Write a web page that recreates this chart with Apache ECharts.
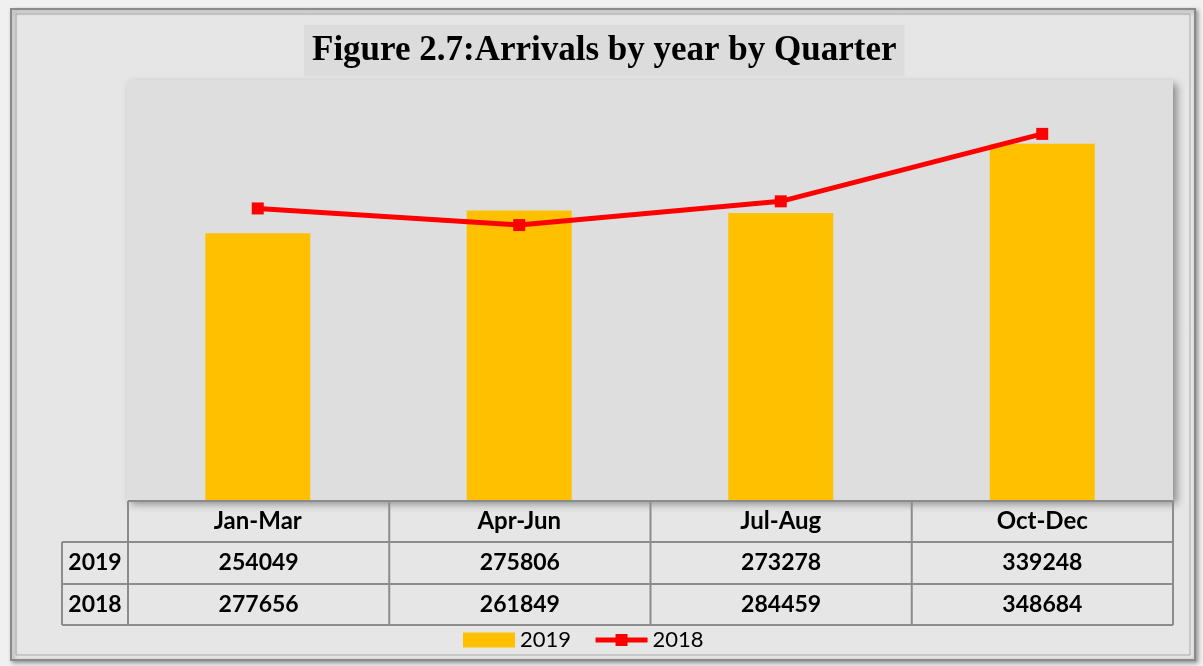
<!DOCTYPE html>
<html>
<head>
<meta charset="utf-8">
<script src="https://cdn.jsdelivr.net/npm/echarts@6/dist/echarts.min.js"></script>
<style>
  html, body { margin: 0; padding: 0; background: #f0f0f0; }
  #chart { width: 1203px; height: 666px; }
</style>
</head>
<body>
<div id="chart"></div>
<script>
const quarters = ['Jan-Mar', 'Apr-Jun', 'Jul-Aug', 'Oct-Dec'];
const arrivals2019 = [254049, 275806, 273278, 339248];
const arrivals2018 = [277656, 261849, 284459, 348684];
const yearNames = ['2019', '2018'];

// table under the plot
const tblLeft = 128, tblRight = 1173, labelLeft = 62;
const rowTop = [501, 542, 584, 625];
const colW = (tblRight - tblLeft) / quarters.length;
const lineStyle = { stroke: '#8c8c8c', lineWidth: 2 };
const cellFont = 'bold 23px Lato';

const tableGraphics = [];
const hline = (x1, x2, y) => tableGraphics.push({ type: 'line', shape: { x1, y1: y, x2, y2: y }, style: lineStyle, z: 10 });
const vline = (x, y1, y2) => tableGraphics.push({ type: 'line', shape: { x1: x, y1, x2: x, y2 }, style: lineStyle, z: 10 });

hline(tblLeft, tblRight, rowTop[0]);
hline(labelLeft, tblRight, rowTop[1]);
hline(labelLeft, tblRight, rowTop[2]);
hline(labelLeft, tblRight, rowTop[3]);
vline(labelLeft, rowTop[1], rowTop[3]);
for (let i = 0; i <= quarters.length; i++) vline(tblLeft + i * colW, rowTop[0], rowTop[3]);

[arrivals2019, arrivals2018].forEach((vals, r) => {
  const cy = (rowTop[r + 1] + rowTop[r + 2]) / 2;
  tableGraphics.push({
    type: 'text', x: (labelLeft + tblLeft) / 2, y: cy, z: 10,
    style: { text: yearNames[r], font: cellFont, fill: '#000', align: 'center', verticalAlign: 'middle' }
  });
  vals.forEach((v, c) => {
    tableGraphics.push({
      type: 'text', x: tblLeft + (c + 0.5) * colW, y: cy, z: 10,
      style: { text: String(v), font: cellFont, fill: '#000', align: 'center', verticalAlign: 'middle' }
    });
  });
});

const chart = echarts.init(document.getElementById('chart'));
chart.setOption({
  backgroundColor: '#f0f0f0',
  animation: false,
  title: {
    text: 'Figure 2.7:Arrivals by year by Quarter',
    left: 304,
    top: 25,
    backgroundColor: '#dcdcdc',
    padding: [6, 8, 5, 8],
    textStyle: { fontFamily: 'Liberation Serif', fontWeight: 'bold', fontSize: 35, lineHeight: 40, color: '#000' }
  },
  graphic: [
    {
      type: 'rect', z: -10,
      shape: { x: 11, y: 9, width: 1184, height: 651 },
      style: { fill: '#e6e6e6', stroke: '#8a8a8a', lineWidth: 2, shadowBlur: 4, shadowColor: 'rgba(0,0,0,0.35)', shadowOffsetX: 2, shadowOffsetY: 2 }
    },
    {
      type: 'rect', z: -9,
      shape: { x: 16, y: 14, width: 1174, height: 641 },
      style: { fill: 'none', stroke: '#a8a8a8', lineWidth: 1 }
    },
    ...tableGraphics
  ],
  legend: {
    left: 458,
    top: 624,
    itemWidth: 52,
    itemHeight: 15,
    itemGap: 22,
    textStyle: { fontFamily: 'Lato', fontSize: 22, color: '#000' },
    data: [
      { name: '2019', icon: 'rect' },
      { name: '2018', lineStyle: { width: 5 } }
    ]
  },
  grid: {
    left: 127, right: 30, top: 80, bottom: 166,
    show: true,
    backgroundColor: '#dedede',
    borderWidth: 0,
    shadowColor: 'rgba(0,0,0,0.4)',
    shadowBlur: 8,
    shadowOffsetX: 4,
    shadowOffsetY: 4
  },
  xAxis: {
    type: 'category',
    data: quarters,
    axisLine: { show: false },
    axisTick: { show: false },
    axisLabel: { fontFamily: 'Lato', fontWeight: 'bold', fontSize: 24, color: '#000', margin: 9 }
  },
  yAxis: {
    type: 'value',
    min: 0,
    max: 400000,
    show: false,
    splitLine: { show: false }
  },
  series: [
    {
      name: '2019',
      type: 'bar',
      data: arrivals2019,
      barWidth: 105,
      itemStyle: { color: '#FFC000' }
    },
    {
      name: '2018',
      type: 'line',
      data: arrivals2018,
      symbol: 'rect',
      symbolSize: 12,
      lineStyle: { color: '#FF0000', width: 5 },
      itemStyle: { color: '#FF0000' }
    }
  ]
});
</script>
</body>
</html>
